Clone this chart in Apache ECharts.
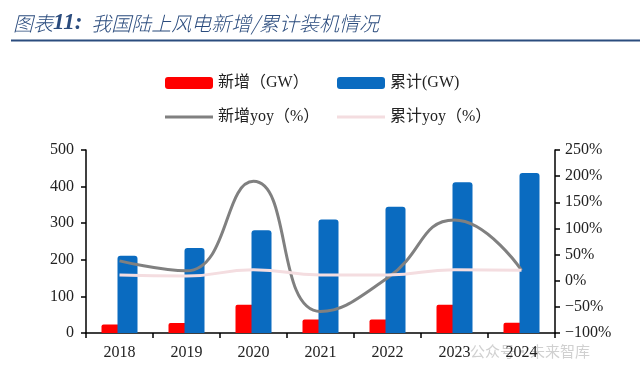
<!DOCTYPE html>
<html><head><meta charset="utf-8">
<script src="https://cdn.jsdelivr.net/npm/echarts@6/dist/echarts.min.js"></script>
<style>html,body{margin:0;padding:0;background:#fff}#c{width:640px;height:380px}</style>
</head><body><div id="c"></div>
<script>
const categories = ['2018','2019','2020','2021','2022','2023','2024'];
const newAdd = [23, 27, 77, 37, 37, 77, 28];
const cumulative = [211, 232, 281, 310, 345, 412, 437];
const newYoy = [38, 19, 190, -59, 5, 116, 20];
const cumYoy = [11, 9, 21, 11, 11, 21, 20];
const leftTicks = {min:0, max:500, interval:100};
const rightTicks = {min:-100, max:250, interval:50};

const serif = '"Liberation Serif","Noto Sans CJK SC",serif';
const chart = echarts.init(document.getElementById('c'));
chart.setOption({
  animation:false,
  backgroundColor:'#fff',
  graphic:[
    {type:'text', left:13, top:12, style:{
      text:'{a|图表}{b|11:}{a|  我国陆上风电新增/累计装机情况}',
      rich:{
        a:{fontSize:20, fontStyle:'italic', fill:'#2b4c7e', fontFamily:'"Noto Sans CJK SC",sans-serif', fontWeight:300},
        b:{fontSize:23, fontStyle:'italic', fontWeight:'bold', fill:'#2b4c7e', fontFamily:'"Liberation Serif",serif'}
      }}},
    {type:'rect', shape:{x:11, y:39.5, width:629, height:2}, style:{fill:'#2b4c7e'}},
    {type:'text', left:470, top:344, style:{text:'公众号·未来智库', fontSize:15, fill:'rgba(120,120,120,0.35)', fontFamily:'"Noto Sans CJK SC",sans-serif'}}
  ],
  legend:[
    {data:['新增（GW）'], left:160, top:70, itemWidth:48, itemHeight:12, icon:'roundRect', textStyle:{fontSize:16, fontFamily:serif, color:'#222'}},
    {data:['累计(GW)'], left:332, top:70, itemWidth:48, itemHeight:12, icon:'roundRect', textStyle:{fontSize:16, fontFamily:serif, color:'#222'}},
    {data:['新增yoy（%）'], left:160, top:104, itemWidth:48, itemHeight:3, icon:'rect', textStyle:{fontSize:16, fontFamily:serif, color:'#222'}},
    {data:['累计yoy（%）'], left:332, top:104, itemWidth:48, itemHeight:3, icon:'rect', textStyle:{fontSize:16, fontFamily:serif, color:'#222'}}
  ],
  grid:{left:86, right:85, top:150, bottom:47},
  xAxis:{type:'category', data:categories,
    axisLine:{lineStyle:{color:'#000', width:1.5}},
    axisTick:{show:true, alignWithLabel:false, length:5, lineStyle:{color:'#000', width:1.5}},
    axisLabel:{fontSize:16, fontFamily:serif, color:'#222', margin:12}
  },
  yAxis:[
    {type:'value', min:leftTicks.min, max:leftTicks.max, interval:leftTicks.interval,
      splitLine:{show:false},
      axisLine:{show:true, lineStyle:{color:'#000', width:1.5}},
      axisTick:{show:true, length:5, lineStyle:{color:'#000', width:1.5}},
      axisLabel:{fontSize:16, fontFamily:serif, color:'#222', margin:12}
    },
    {type:'value', min:rightTicks.min, max:rightTicks.max, interval:rightTicks.interval,
      splitLine:{show:false},
      axisLine:{show:true, lineStyle:{color:'#000', width:1.5}},
      axisTick:{show:true, length:5, lineStyle:{color:'#000', width:1.5}},
      axisLabel:{fontSize:16, fontFamily:serif, color:'#222', margin:10,
        formatter:v => (v<0 ? '−'+(-v) : v) + '%'}
    }
  ],
  series:[
    {name:'新增（GW）', type:'bar', data:newAdd, barWidth:20, barGap:'-20%', itemStyle:{color:'#ff0000', borderRadius:[2,2,0,0]}},
    {name:'累计(GW)', type:'bar', data:cumulative, barWidth:20, itemStyle:{color:'#0a6bc0', borderRadius:[3,3,0,0]}},
    {name:'新增yoy（%）', type:'line', yAxisIndex:1, data:newYoy, smooth:0.5, symbol:'none',
      lineStyle:{color:'#808080', width:3}, itemStyle:{color:'#808080'}},
    {name:'累计yoy（%）', type:'line', yAxisIndex:1, data:cumYoy, smooth:0.5, symbol:'none',
      lineStyle:{color:'#f4dde0', width:3}, itemStyle:{color:'#f4dde0'}}
  ]
});
</script></body></html>
